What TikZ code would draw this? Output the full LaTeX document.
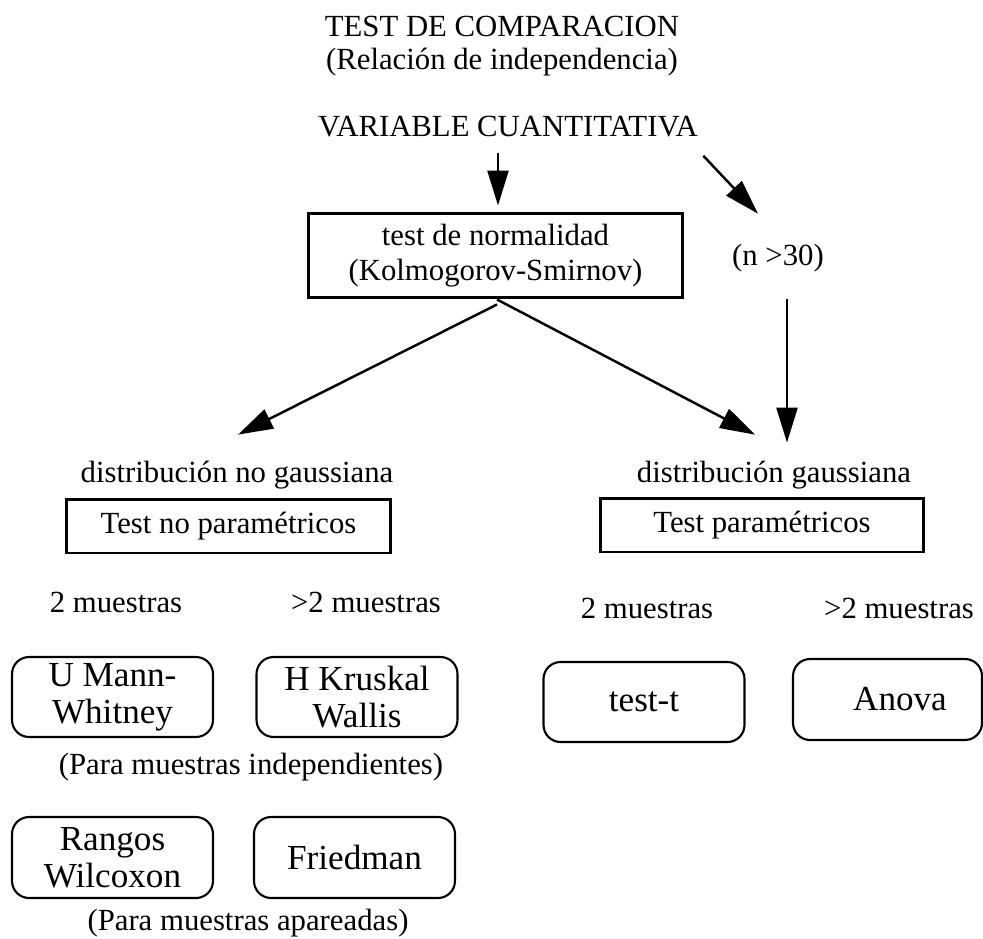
\documentclass[tikz,border=0pt]{standalone}
\usepackage{fontspec}
\setmainfont{Liberation Serif}
\usetikzlibrary{positioning,arrows.meta}

\tikzset{
	texto/.style={inner sep=0pt,align=center,font=\fontsize{17.5}{18.5}\selectfont},
	caja/.style={draw,line width=1.7pt,inner sep=0pt,align=center,font=\fontsize{17.5}{20}\selectfont},
	cajared/.style={draw,line width=1.2pt,rounded corners=0.34cm,inner sep=0pt,align=center,
		minimum width=4.02cm,minimum height=1.6cm,font=\fontsize{20}{21}\selectfont},
	flecha/.style={line width=1.4pt,-{Triangle[length=0.7cm,width=0.42cm]}},
}

\begin{document}
\begin{tikzpicture}[x=0.02cm,y=-0.02cm]
	\useasboundingbox (0,0) rectangle (983,939);
	%% cabecera
	\node[texto] (t1) at (502,46) {TEST DE COMPARACION\\(Relación de independencia)};
	\node[texto] (v1) at (508,127) {VARIABLE CUANTITATIVA};
	\node[caja,minimum width=7.5cm,minimum height=1.7cm] (n1) at (495.5,255.5) {test de normalidad\\(Kolmogorov-Smirnov)};
	\node[texto] (n2) at (778,258) {(n >30)};
	%% rama no gaussiana
	\node[texto] (d1) at (237,475) {distribución no gaussiana};
	\node[caja,minimum width=6.5cm,minimum height=1.08cm] (d2) at (228.5,526) {Test no paramétricos};
	\node[texto] (m1) at (116,602) {2 muestras};
	\node[texto] (m2) at (366,602) {>2 muestras};
	\node[cajared] (b1) at (112.5,697) {U Mann-\\Whitney};
	\node[cajared] (b2) at (357,697) {H Kruskal\\Wallis};
	\node[texto] (p1) at (251,767) {(Para muestras independientes)};
	\node[cajared,minimum height=1.62cm] (b3) at (112.5,857.5) {Rangos\\Wilcoxon};
	\node[cajared,minimum height=1.62cm] (b4) at (354.5,857.5) {Friedman};
	\node[texto] (p2) at (248,923) {(Para muestras apareadas)};
	%% rama gaussiana
	\node[texto] (g1) at (774,475) {distribución gaussiana};
	\node[caja,minimum width=6.48cm,minimum height=1.08cm] (g2) at (762,525) {Test paramétricos};
	\node[texto] (m3) at (647,608) {2 muestras};
	\node[texto] (m4) at (899,608) {>2 muestras};
	\node[cajared] (b5) at (644,702) {test-t};
	\node[cajared,minimum width=3.78cm,minimum height=1.62cm] (b6) at (887.5,699.5) {\hspace*{0.5cm}Anova};
	% flechas
	\draw[flecha] ([shift={(2.5,15)}]v1.south -| n1.north) -- ([shift={(2.5,-6)}]n1.north);
	\draw[flecha] ([shift={(5,18)}]v1.south east) -- ([shift={(-20,-30)}]n2.north);
	\draw[flecha] ([shift={(9,27)}]n2.south) -- ([shift={(13,-18)}]g1.north);
	\draw[flecha] ([shift={(1.5,5)}]n1.south) -- ([shift={(1,-26)}]d1.north);
	\draw[flecha] ([shift={(1.5,0)}]n1.south) -- ([shift={(-19,-26)}]g1.north);
\end{tikzpicture}
\end{document}
